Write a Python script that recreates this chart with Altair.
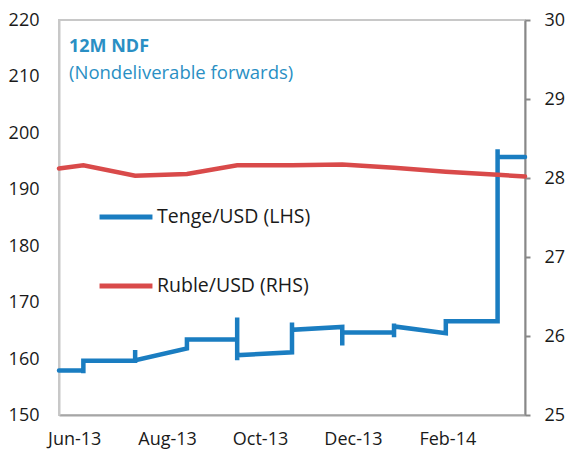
import altair as alt
import pandas as pd

# ---- data ----
tenge_dates = ["2013-05-22", "2013-06-07", "2013-06-07", "2013-06-07", "2013-07-11", "2013-07-11",
               "2013-07-11", "2013-07-11", "2013-08-14", "2013-08-14", "2013-09-16", "2013-09-16",
               "2013-09-16", "2013-09-16", "2013-10-22", "2013-10-22", "2013-10-22", "2013-11-24",
               "2013-11-24", "2013-11-24", "2013-12-28", "2013-12-28", "2013-12-28", "2013-12-28",
               "2014-01-31", "2014-01-31", "2014-03-06", "2014-03-06", "2014-03-06", "2014-03-24"]
tenge_values = [157.9, 157.9, 157.4, 159.6, 159.6, 161.5, 159.2, 159.7, 161.8, 163.4,
                163.4, 167.3, 159.7, 160.6, 161.1, 166.4, 165.1, 165.6, 162.3, 164.6,
                164.6, 166.2, 163.8, 165.7, 164.5, 166.6, 166.6, 197.1, 195.7, 195.7]

ruble_dates = ["2013-05-22", "2013-06-07", "2013-07-11", "2013-08-14", "2013-09-16", "2013-10-22",
               "2013-11-24", "2013-12-28", "2014-01-31", "2014-03-06", "2014-03-24"]
ruble_values = [28.12, 28.16, 28.03, 28.05, 28.16, 28.16, 28.17, 28.13, 28.08, 28.04, 28.02]

series_names = ["Tenge/USD (LHS)", "Ruble/USD (RHS)"]
x_labels_dates = ["2013-06-01", "2013-08-01", "2013-10-01", "2013-12-01", "2014-02-01"]
left_ticks = [150, 160, 170, 180, 190, 200, 210, 220]
right_ticks = [25, 26, 27, 28, 29, 30]
title_text = "12M NDF"
subtitle_text = "(Nondeliverable forwards)"

BLUE = "#1a7dc1"
RED = "#d94a4a"
TITLE_BLUE = "#2a8fc4"
FONT = "Open Sans"

tenge = pd.DataFrame({"date": tenge_dates, "value": tenge_values,
                      "order": list(range(len(tenge_values))), "series": series_names[0]})
ruble = pd.DataFrame({"date": ruble_dates, "value": ruble_values,
                      "order": list(range(len(ruble_values))), "series": series_names[1]})

def dt(s):
    y, m, d = map(int, s.split("-"))
    return alt.DateTime(year=y, month=m, date=d, utc=True)

xscale = alt.Scale(type="utc", domain=[dt("2013-05-22"), dt("2014-03-24")], nice=False)
xaxis = alt.Axis(values=[dt(s) for s in x_labels_dates],
                 labelExpr="utcFormat(datum.value, '%b-%y')",
                 title=None, ticks=False, grid=False, labelFontSize=18, labelFont=FONT,
                 labelColor="#1a1a1a", labelPadding=15, domainColor="#a6a6a6", domainWidth=2,
                 labelFlush=False)

color = alt.Color("series:N",
                  scale=alt.Scale(domain=series_names, range=[BLUE, RED]),
                  legend=alt.Legend(orient="none", legendX=38, legendY=168, title=None,
                                    symbolType="stroke", symbolSize=2800, symbolStrokeWidth=5,
                                    labelFontSize=19.5, labelFont=FONT, labelColor="#1a1a1a",
                                    labelOffset=2, rowPadding=30))

left = alt.Chart(tenge).mark_line(strokeWidth=4.5, strokeCap="round", strokeJoin="miter").encode(
    x=alt.X("date:T", scale=xscale, axis=xaxis),
    y=alt.Y("value:Q", scale=alt.Scale(domain=[150, 220], nice=False, zero=False),
            axis=alt.Axis(values=left_ticks, title=None, grid=False, ticks=False,
                          labelFontSize=18, labelFont=FONT, labelColor="#1a1a1a", labelPadding=20,
                          labelOffset=0.5, domainColor="#c8c8c8", domainWidth=2)),
    color=color,
    order="order:Q",
)

right = alt.Chart(ruble).mark_line(strokeWidth=4.5, strokeCap="round").encode(
    x=alt.X("date:T", scale=xscale, axis=xaxis),
    y=alt.Y("value:Q", scale=alt.Scale(domain=[25, 30], nice=False, zero=False),
            axis=alt.Axis(orient="right", values=right_ticks, title=None, grid=False,
                          ticks=True, tickSize=5, tickColor="#888888", tickWidth=2,
                          labelFontSize=18, labelFont=FONT, labelColor="#1a1a1a", labelPadding=14,
                          domainColor="#888888", domainWidth=2)),
    color=color,
    order="order:Q",
)

title_layer = alt.Chart(pd.DataFrame({"t": [title_text]})).mark_text(
    align="left", baseline="middle", fontSize=18, font=FONT, fontWeight="bold",
    color=TITLE_BLUE).encode(text="t:N", x=alt.value(10), y=alt.value(27))

subtitle_layer = alt.Chart(pd.DataFrame({"t": [subtitle_text]})).mark_text(
    align="left", baseline="middle", fontSize=18.5, font=FONT,
    color=TITLE_BLUE).encode(text="t:N", x=alt.value(10), y=alt.value(53))

chart = alt.layer(left, right, title_layer, subtitle_layer).resolve_scale(y="independent").properties(
    width=466, height=395,
    autosize=alt.AutoSizeParams(type="none"),
    padding={"left": 51, "top": 12, "right": 46, "bottom": 43},
).configure_view(stroke="#c8c8c8", strokeWidth=2)

chart.save("out.html", embed_options={"renderer": "svg", "actions": False})
